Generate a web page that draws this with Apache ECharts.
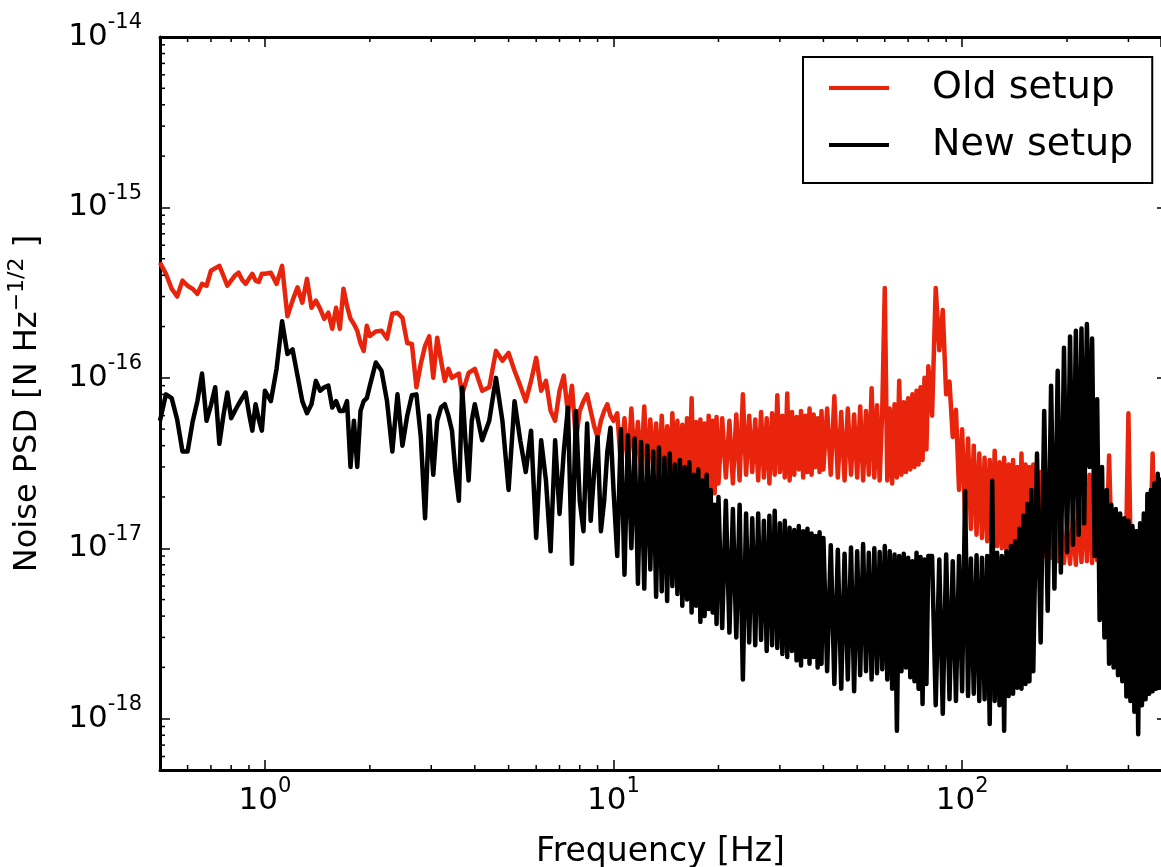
<!DOCTYPE html>
<html>
<head>
<meta charset="utf-8">
<script src="https://cdn.jsdelivr.net/npm/echarts@6.0.0/dist/echarts.min.js"></script>
<style>
  html, body { margin: 0; padding: 0; background: #fff; }
  #chart { width: 1161px; height: 867px; }
</style>
</head>
<body>
<div id="chart"></div>
<script>
// frequency bins [Hz]
var freqHz = [
    0.50, 0.52, 0.54, 0.56, 0.58, 0.60, 0.62, 0.64, 0.66, 0.68, 0.70, 0.72, 0.74, 0.76, 0.78, 0.80, 0.82, 0.84, 0.86, 0.88, 0.90, 0.92, 0.94, 0.96, 0.98,
    1.00, 1.04, 1.08, 1.12, 1.16, 1.20, 1.24, 1.28, 1.32, 1.36, 1.40, 1.44, 1.48, 1.52, 1.56, 1.60, 1.64, 1.68, 1.72, 1.76, 1.80, 1.84, 1.88, 1.92, 1.96, 2.00,
    2.08, 2.16, 2.24, 2.32, 2.40, 2.48, 2.56, 2.64, 2.72, 2.80, 2.88, 2.96, 3.04, 3.12, 3.20, 3.28, 3.36, 3.44, 3.52, 3.60, 3.68, 3.76, 3.84, 3.92, 4.00,
    4.2, 4.4, 4.6, 4.8, 5.0, 5.2, 5.4, 5.6, 5.8, 6.0, 6.2, 6.4, 6.6, 6.8, 7.0, 7.2, 7.4, 7.6, 7.8, 8.0, 8.2, 8.4, 8.6, 8.8, 9.0, 9.2, 9.4, 9.6, 9.8, 10.0,
    10.25, 10.5, 10.75, 11, 11.25, 11.5, 11.75, 12, 12.25, 12.5, 12.75, 13, 13.25, 13.5, 13.75, 14, 14.25, 14.5, 14.75, 15,
    15.25, 15.5, 15.75, 16, 16.25, 16.5, 16.75, 17, 17.25, 17.5, 17.75, 18, 18.25, 18.5, 18.75, 19, 19.25, 19.5, 19.75, 20,
    20.5, 21, 21.5, 22, 22.5, 23, 23.5, 24, 24.5, 25, 25.5, 26, 26.5, 27, 27.5, 28, 28.5, 29, 29.5, 30,
    30.5, 31, 31.5, 32, 32.5, 33, 33.5, 34, 34.5, 35, 35.5, 36, 36.5, 37, 37.5, 38, 38.5, 39, 39.5, 40,
    41, 42, 43, 44, 45, 46, 47, 48, 49, 50, 51, 52, 53, 54, 55, 56, 57, 58, 59, 60,
    61, 62, 63, 64, 65, 66, 67, 68, 69, 70, 71, 72, 73, 74, 75, 76, 77, 78, 79, 80,
    82, 84, 86, 88, 90, 92, 94, 96, 98, 100, 102, 104, 106, 108, 110, 112, 114, 116, 118, 120,
    122, 124, 126, 128, 130, 132, 134, 136, 138, 140, 142, 144, 146, 148, 150, 152, 154, 156, 158, 160,
    164, 168, 172, 176, 180, 184, 188, 192, 196, 200, 204, 208, 212, 216, 220, 224, 228, 232, 236, 240,
    244, 248, 252, 256, 260, 264, 268, 272, 276, 280, 284, 288, 292, 296, 300, 304, 308, 312, 316, 320,
    324, 328, 332, 336, 340, 344, 348, 352, 356, 360, 364, 368, 372
];

// noise PSD in aN/sqrt(Hz)  (1 aN = 1e-18 N)
var oldSetup = [
    474, 408, 333, 300, 372, 347, 333, 311, 356, 347, 425, 440, 454, 398, 347, 372, 398, 414, 376, 356, 381, 408, 372, 366, 408,
    408, 414, 356, 454, 230, 284, 340, 276, 381, 258, 284, 254, 222, 241, 194, 258, 194, 333, 264, 222, 207, 189, 160, 144, 202, 176,
    187, 189, 170, 238, 241, 225, 160, 158, 88, 121, 154, 175, 100, 172, 126, 96, 113, 100, 103, 106, 80, 93, 107, 110, 113,
    84, 88, 144, 126, 140, 110, 90, 73, 96, 131, 84, 96, 64, 56, 84, 103, 62, 90, 43, 64, 73, 80, 64, 52, 45, 56, 64, 70, 60, 56,
    62, 31, 58, 29, 66, 32, 55, 28, 68, 27, 57, 30, 54, 25, 60, 27, 52, 24, 62, 26,
    56, 23, 53, 27, 58, 24, 76, 23, 55, 25, 57, 22, 54, 24, 60, 22, 56, 21, 59, 24,
    58, 26, 56, 24, 61, 25, 80, 27, 60, 28, 57, 25, 63, 26, 58, 24, 62, 27, 79, 28,
    60, 26, 81, 25, 63, 27, 59, 29, 64, 26, 60, 28, 66, 27, 61, 30, 58, 28, 64, 29,
    66, 27, 78, 26, 63, 25, 66, 27, 61, 26, 68, 25, 64, 27, 87, 26, 69, 25, 64, 337,
    25, 66, 24, 70, 26, 96, 27, 72, 28, 76, 29, 80, 30, 84, 31, 88, 33, 100, 38, 117,
    60, 337, 145, 250, 80, 95, 45, 65, 22, 50, 15, 44, 13, 40, 12, 36, 11.5, 34, 11, 33,
    10.6, 37.4, 10.3, 32, 10, 34, 9.8, 31, 10.2, 33, 9.6, 30, 9.9, 36, 9.5, 31, 9.8, 30, 9.4, 31,
    9.6, 28, 9.0, 26, 8.8, 24, 8.4, 14, 8.2, 13, 8.1, 15, 8.0, 18, 8.3, 22, 8.4, 27, 8.2, 20,
    8.5, 17, 10.3, 16, 10.8, 35, 11, 15, 10.7, 14.5, 11, 14, 10.6, 13.5, 62, 10.6, 13, 10.3, 12.6, 10.2,
    12.3, 10, 13, 10.3, 12.8, 10.4, 13.5, 36, 11, 12.6, 11.3, 13.5, 11
];

var newSetup = [
    56, 80, 76, 57, 37, 37, 55, 73, 106, 56, 69, 88, 41, 60, 82, 58, 64, 70, 76, 82, 62, 49, 70, 57, 49,
    84, 73, 113, 215, 138, 147, 103, 73, 62, 70, 96, 84, 88, 90, 67, 73, 64, 64, 73, 30, 56, 30, 64, 73, 76, 90,
    123, 110, 73, 37, 80, 40, 60, 79, 80, 45, 15, 60, 27, 56, 67, 70, 60, 49, 28, 19, 88, 43, 25, 56, 70,
    43, 56, 100, 56, 22, 73, 43, 28, 49, 11.5, 43, 25, 9.6, 43, 15.9, 37, 67, 8.1, 64, 19, 12.6, 54, 14.5, 28, 45, 12.6, 19, 37, 51, 22,
    9, 50, 7, 46, 10, 44, 6.2, 42, 5.8, 40, 7.5, 37, 5.2, 39, 5.6, 34, 4.9, 36, 6, 31,
    5.4, 33, 4.6, 30, 5, 32, 4.2, 27, 4.6, 29, 3.7, 25, 4.0, 27, 4.4, 22, 4.2, 18, 3.6, 20,
    3.4, 19, 3.2, 17, 3.0, 18, 1.7, 16, 2.8, 15, 2.7, 16, 2.9, 14.5, 2.5, 15.5, 2.7, 16.6, 2.6, 14,
    2.4, 14.5, 2.3, 13.2, 2.5, 12.8, 2.2, 13.5, 2.05, 12.6, 2.3, 13.0, 2.1, 12.2, 2.3, 11.8, 2.0, 12.4, 2.1, 11.5,
    1.9, 10.4, 1.6, 9.8, 1.5, 9.3, 1.7, 10.1, 1.45, 9.6, 1.8, 10.6, 1.9, 9.4, 1.7, 10.0, 1.85, 9.5, 1.95, 10.3,
    1.7, 9.6, 1.5, 9.2, 0.85, 9.0, 1.9, 9.3, 2.0, 8.8, 1.75, 8.4, 1.66, 9.4, 1.5, 8.9, 1.22, 8.6, 1.6, 9.0,
    9.0, 1.2, 8.6, 1.07, 9.2, 1.3, 8.4, 1.27, 9.0, 1.45, 21.7, 1.36, 8.7, 1.4, 9.1, 1.27, 8.8, 1.3, 9.0, 0.93,
    24.9, 1.27, 9.4, 1.2, 9.0, 0.85, 9.6, 1.36, 10.3, 1.4, 11.0, 1.52, 13, 1.5, 15.5, 1.6, 18.2, 1.66, 22, 1.9,
    36, 2.8, 64, 4.3, 90, 5.8, 110, 7.2, 150, 9.5, 175, 10.5, 189, 12, 195, 14, 207, 30, 170, 9,
    75, 3.8, 30, 3.0, 22, 2.1, 18, 2.0, 17, 1.8, 16, 1.66, 15, 1.35, 14.5, 1.27, 13.5, 1.1, 12.6, 0.81,
    14, 1.2, 16, 1.3, 20.8, 1.4, 22, 1.45, 24, 1.5, 27.4, 1.52, 26
];

// minor tick positions (log axes, 2..9 per decade)
var xMinorTicks = [0.6, 0.7, 0.8, 0.9, 2, 3, 4, 5, 6, 7, 8, 9, 20, 30, 40, 50, 60, 70, 80, 90, 200, 300];
var yMinorTicks = [0.6, 0.7, 0.8, 0.9, 2, 3, 4, 5, 6, 7, 8, 9, 20, 30, 40, 50, 60, 70, 80, 90,
    200, 300, 400, 500, 600, 700, 800, 900, 2000, 3000, 4000, 5000, 6000, 7000, 8000, 9000];

// the picture is cropped on the right at about 372 Hz
var X_MIN = 0.5, X_MAX = 372;
var Y_MIN = 0.5, Y_MAX = 10000;
var AN_EXP = -18;   // aN -> N

var FONT = 'DejaVu Sans';
var RED = '#e8240c';

var myChart = echarts.init(document.getElementById('chart'), null, { renderer: 'canvas' });

var tickRich = {
    b: { fontFamily: FONT, fontSize: 31, color: '#000' },
    s: { fontFamily: FONT, fontSize: 21, color: '#000', padding: [0, 0, 28, 0] }
};

function powLabel(exp) {
    return '{b|10}{s|' + exp + '}';
}

var axisLineStyle = { color: '#000', width: 3 };
var majorTick = { show: true, inside: true, length: 10, lineStyle: { color: '#000', width: 1.5 } };

function pairs(ys) {
    return freqHz.map(function (f, i) { return [f, ys[i]]; });
}

function tickLine(x1, y1, x2, y2) {
    return { type: 'line', shape: { x1: x1, y1: y1, x2: x2, y2: y2 }, style: { stroke: '#000', lineWidth: 1.5 } };
}

var option = {
    backgroundColor: '#fff',
    animation: false,
    grid: { left: 160, top: 37, right: 0, bottom: 97, containLabel: false, outerBoundsMode: 'none' },
    legend: {
        data: ['Old setup', 'New setup'],
        orient: 'vertical',
        left: 803,
        top: 57,
        padding: [12, 19, 19, 26],
        icon: 'rect',
        itemWidth: 60,
        itemHeight: 4,
        itemGap: 19,
        borderColor: '#000',
        borderWidth: 2,
        borderRadius: 0,
        backgroundColor: '#fff',
        selectedMode: false,
        textStyle: { fontFamily: FONT, fontSize: 38, color: '#000', padding: [0, 0, 0, 38] }
    },
    xAxis: [
        {
            type: 'log', logBase: 10, min: X_MIN, max: X_MAX, position: 'bottom',
            name: 'Frequency [Hz]', nameLocation: 'middle', nameGap: 66,
            nameTextStyle: { fontFamily: FONT, fontSize: 33, color: '#000' },
            axisLine: { show: true, onZero: false, lineStyle: axisLineStyle },
            axisTick: majorTick,
            axisLabel: {
                margin: 6, showMinLabel: false, showMaxLabel: false, rich: tickRich,
                formatter: function (v) { return powLabel(Math.round(Math.log10(v))); }
            },
            splitLine: { show: false }
        },
        {
            type: 'log', logBase: 10, min: X_MIN, max: X_MAX, position: 'top',
            axisLine: { show: true, onZero: false, lineStyle: axisLineStyle },
            axisTick: majorTick,
            axisLabel: { show: false },
            splitLine: { show: false }
        }
    ],
    yAxis: [
        {
            type: 'log', logBase: 10, min: Y_MIN, max: Y_MAX, position: 'left',
            name: '{a|Noise PSD [N Hz}{s|\u22121/2}{a| ]}', nameLocation: 'middle', nameRotate: 90, nameGap: 110,
            nameTextStyle: {
                fontFamily: FONT, fontSize: 32, color: '#000',
                rich: {
                    a: { fontFamily: FONT, fontSize: 32, color: '#000' },
                    s: { fontFamily: FONT, fontSize: 22, color: '#000', padding: [0, 0, 22, 0] }
                }
            },
            axisLine: { show: true, onZero: false, lineStyle: axisLineStyle },
            axisTick: majorTick,
            axisLabel: {
                margin: 18, showMinLabel: false, showMaxLabel: true, rich: tickRich,
                formatter: function (v) { return powLabel(Math.round(Math.log10(v)) + AN_EXP); }
            },
            splitLine: { show: false }
        },
        {
            // right spine sits just outside the crop, only the tick tips show
            type: 'log', logBase: 10, min: Y_MIN, max: Y_MAX, position: 'right',
            axisLine: { show: false },
            axisTick: { show: true, inside: true, length: 4, lineStyle: { color: '#000', width: 1.5 } },
            axisLabel: { show: false },
            splitLine: { show: false }
        }
    ],
    series: [
        {
            name: 'Old setup', type: 'line', data: pairs(oldSetup),
            symbol: 'none', showSymbol: false, z: 2,
            itemStyle: { color: RED },
            lineStyle: { color: RED, width: 4.5, join: 'round' }
        },
        {
            name: 'New setup', type: 'line', data: pairs(newSetup),
            symbol: 'none', showSymbol: false, z: 3,
            itemStyle: { color: '#000' },
            lineStyle: { color: '#000', width: 4.5, join: 'round' }
        },
        {
            // minor ticks on bottom and top
            type: 'custom', silent: true, z: 4,
            data: xMinorTicks.map(function (v) { return [v, Y_MIN]; }),
            renderItem: function (params, api) {
                var b = api.coord([api.value(0), Y_MIN]);
                var t = api.coord([api.value(0), Y_MAX]);
                return { type: 'group', children: [
                    tickLine(b[0], b[1], b[0], b[1] - 5),
                    tickLine(t[0], t[1], t[0], t[1] + 5)
                ] };
            }
        },
        {
            // minor ticks on the left
            type: 'custom', silent: true, z: 4,
            data: yMinorTicks.map(function (v) { return [X_MIN, v]; }),
            renderItem: function (params, api) {
                var l = api.coord([X_MIN, api.value(1)]);
                return tickLine(l[0], l[1], l[0] + 5, l[1]);
            }
        }
    ]
};

myChart.setOption(option);
</script>
</body>
</html>
